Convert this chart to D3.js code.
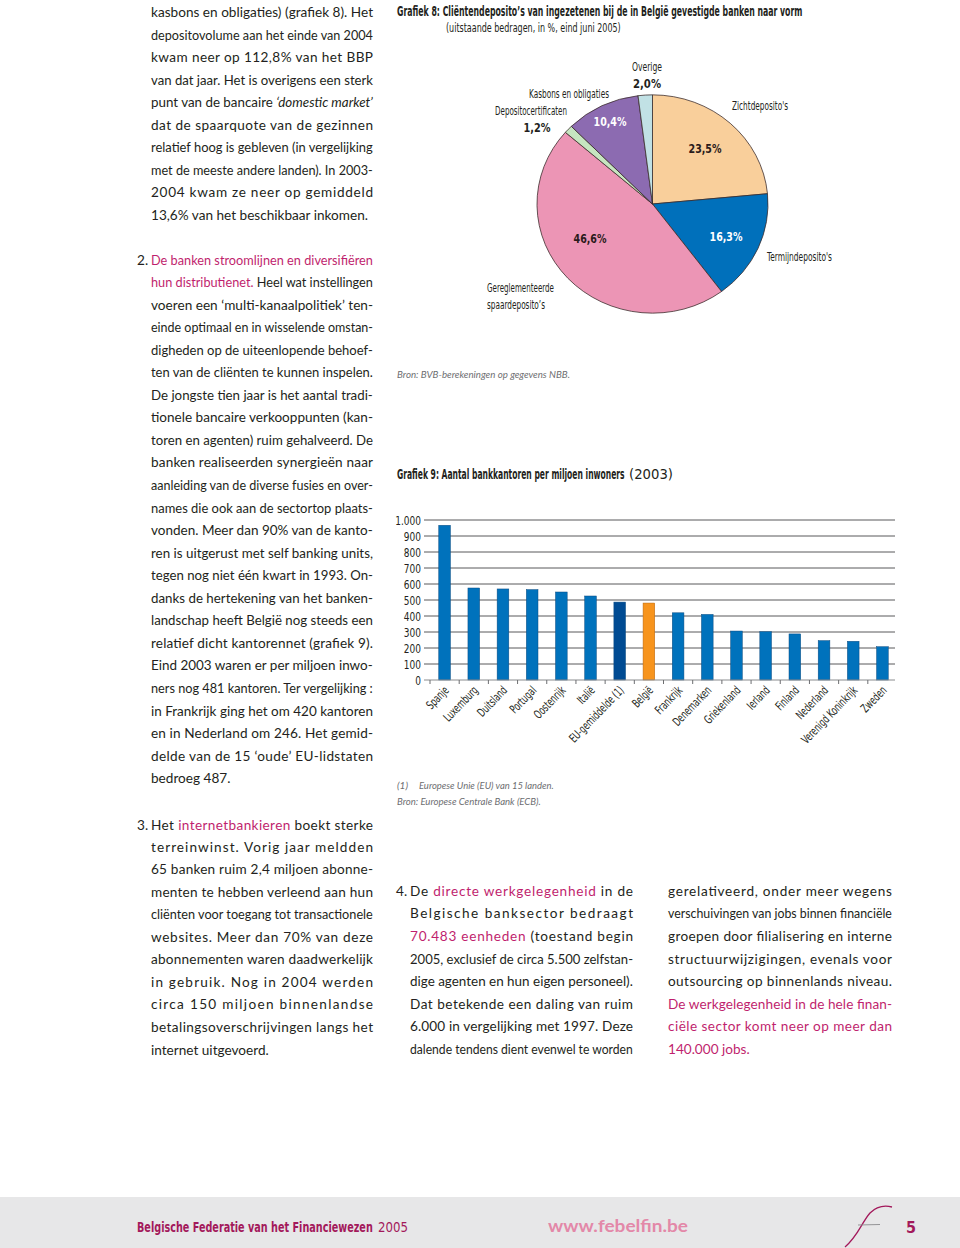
<!DOCTYPE html>
<html><head><meta charset="utf-8">
<script src="https://cdn.jsdelivr.net/npm/d3@7"></script>
<style>
html,body{margin:0;padding:0;background:#fff;}
svg{display:block;}
.body{font-family:Lato,"Open Sans",sans-serif;font-size:13.6px;fill:#231f20;}
.cond{font-family:"Liberation Sans Narrow","DejaVu Sans Condensed","Roboto Condensed",sans-serif;}
</style></head>
<body>
<svg id="page" width="960" height="1248"></svg>
<script>
// ---------- DATA ----------
const pieLabels = ["Zichtdeposito's","Termijndeposito's","Gereglementeerde spaardeposito's","Depositocertificaten","Kasbons en obligaties","Overige"];
const pieValues = [23.5, 16.3, 46.6, 1.2, 10.4, 2.0];
const pieValueLabels = ["23,5%","16,3%","46,6%","1,2%","10,4%","2,0%"];
const pieColors = ["#f9cf9b","#0070bb","#ec95b5","#c6e5c0","#8c6bb1","#c1e1e5"];

const barCategories = ["Spanje","Luxemburg","Duitsland","Portugal","Oostenrijk","Italië","EU-gemiddelde (1)","België","Frankrijk","Denemarken","Griekenland","Ierland","Finland","Nederland","Verenigd Koninkrijk","Zweden"];
const barValues = [967, 575, 569, 565, 550, 525, 487, 481, 420, 410, 306, 302, 288, 246, 242, 208];
const yTicks = [0,100,200,300,400,500,600,700,800,900,1000];

// ---------- SETUP ----------
const svg = d3.select("#page");
const PINK = "#bf1f6e";
const TXT = "#231f20";
// fit a text horizontally to width w by scaling about its anchor point
function fitText(t, x, y, w){
  const L = t.node().getComputedTextLength();
  const s = w / L;
  t.attr("x",0).attr("y",0).attr("transform",`translate(${x},${y}) scale(${s},1)`);
  return t;
}

// ---------- BODY TEXT ----------
const C1 = 151, W1 = 222, C2 = 410, W2 = 223, C3 = 668, W3 = 224;
const bodyLines = [
 [C1,17,W1,[["kasbons en obligaties) (grafiek 8). Het"]]],
 [C1,39.5,W1,[["depositovolume aan het einde van 2004"]]],
 [C1,62,W1,[["kwam neer op 112,8% van het BBP"]]],
 [C1,84.5,W1,[["van dat jaar. Het is overigens een sterk"]]],
 [C1,107,W1,[["punt van de bancaire "],["‘domestic market’","i"]]],
 [C1,129.5,W1,[["dat de spaarquote van de gezinnen"]]],
 [C1,152,W1,[["relatief hoog is gebleven (in vergelijking"]]],
 [C1,174.5,W1,[["met de meeste andere landen). In 2003-"]]],
 [C1,197,W1,[["2004 kwam ze neer op gemiddeld"]]],
 [C1,219.5,0,[["13,6% van het beschikbaar inkomen."]]],

 [C1,264.5,W1,[["De banken stroomlijnen en diversifiëren","p"]]],
 [C1,287,W1,[["hun distributienet.","p"],[" Heel wat instellingen"]]],
 [C1,309.5,W1,[["voeren een ‘multi-kanaalpolitiek’ ten-"]]],
 [C1,332,W1,[["einde optimaal en in wisselende omstan-"]]],
 [C1,354.5,W1,[["digheden op de uiteenlopende behoef-"]]],
 [C1,377,W1,[["ten van de cliënten te kunnen inspelen."]]],
 [C1,399.5,W1,[["De jongste tien jaar is het aantal tradi-"]]],
 [C1,422,W1,[["tionele bancaire verkooppunten (kan-"]]],
 [C1,444.5,W1,[["toren en agenten) ruim gehalveerd. De"]]],
 [C1,467,W1,[["banken realiseerden synergieën naar"]]],
 [C1,490,W1,[["aanleiding van de diverse fusies en over-"]]],
 [C1,512.5,W1,[["names die ook aan de sectortop plaats-"]]],
 [C1,535,W1,[["vonden. Meer dan 90% van de kanto-"]]],
 [C1,557.5,W1,[["ren is uitgerust met self banking units,"]]],
 [C1,580,W1,[["tegen nog niet één kwart in 1993. On-"]]],
 [C1,602.5,W1,[["danks de hertekening van het banken-"]]],
 [C1,625,W1,[["landschap heeft België nog steeds een"]]],
 [C1,647.5,W1,[["relatief dicht kantorennet (grafiek 9)."]]],
 [C1,670,W1,[["Eind 2003 waren er per miljoen inwo-"]]],
 [C1,693,W1,[["ners nog 481 kantoren. Ter vergelijking :"]]],
 [C1,715.5,W1,[["in Frankrijk ging het om 420 kantoren"]]],
 [C1,738,W1,[["en in Nederland om 246. Het gemid-"]]],
 [C1,760.5,W1,[["delde van de 15 ‘oude’ EU-lidstaten"]]],
 [C1,783,0,[["bedroeg 487."]]],

 [C1,829.5,W1,[["Het "],["internetbankieren","p"],[" boekt sterke"]]],
 [C1,851.5,W1,[["terreinwinst. Vorig jaar meldden"]]],
 [C1,874,W1,[["65 banken ruim 2,4 miljoen abonne-"]]],
 [C1,896.5,W1,[["menten te hebben verleend aan hun"]]],
 [C1,919,W1,[["cliënten voor toegang tot transactionele"]]],
 [C1,941.5,W1,[["websites. Meer dan 70% van deze"]]],
 [C1,964,W1,[["abonnementen waren daadwerkelijk"]]],
 [C1,986.5,W1,[["in gebruik. Nog in 2004 werden"]]],
 [C1,1009,W1,[["circa 150 miljoen binnenlandse"]]],
 [C1,1032,W1,[["betalingsoverschrijvingen langs het"]]],
 [C1,1054.5,0,[["internet uitgevoerd."]]],

 [C2,895.5,W2,[["De "],["directe werkgelegenheid","p"],[" in de"]]],
 [C2,918,W2,[["Belgische banksector bedraagt"]]],
 [C2,941,W2,[["70.483 eenheden","p"],[" (toestand begin"]]],
 [C2,963.5,W2,[["2005, exclusief de circa 5.500 zelfstan-"]]],
 [C2,986,W2,[["dige agenten en hun eigen personeel)."]]],
 [C2,1008.5,W2,[["Dat betekende een daling van ruim"]]],
 [C2,1031,W2,[["6.000 in vergelijking met 1997. Deze"]]],
 [C2,1053.5,W2,[["dalende tendens dient evenwel te worden"]]],

 [C3,895.5,W3,[["gerelativeerd, onder meer wegens"]]],
 [C3,918,W3,[["verschuivingen van jobs binnen financiële"]]],
 [C3,941,W3,[["groepen door filialisering en interne"]]],
 [C3,963.5,W3,[["structuurwijzigingen, evenals voor"]]],
 [C3,986,W3,[["outsourcing op binnenlands niveau."]]],
 [C3,1008.5,W3,[["De werkgelegenheid in de hele finan-","p"]]],
 [C3,1031,W3,[["ciële sector komt neer op meer dan","p"]]],
 [C3,1053.5,0,[["140.000 jobs.","p"]]]
];
const bodyG = svg.append("g").attr("class","body");
bodyLines.forEach(([x,y,w,segs]) => {
  const t = bodyG.append("text").attr("x",x).attr("y",y);
  segs.forEach(([s,st]) => {
    const ts = t.append("tspan").text(s);
    if (st==="p") ts.attr("fill",PINK);
    if (st==="i") ts.attr("font-style","italic");
  });
  if (w) {
    const L = t.node().getComputedTextLength();
    if (L > w) fitText(t, x, y, w);
    else t.attr("textLength",w).attr("lengthAdjust","spacing");
  }
});
[[137,264.5,"2."],[137,829.5,"3."],[396,895.5,"4."]].forEach(([x,y,s]) =>
  bodyG.append("text").attr("x",x).attr("y",y).text(s));

// ---------- CHART 8: PIE ----------
const g8 = svg.append("g").attr("class","cond");
fitText(g8.append("text").attr("font-size",14).attr("font-weight","bold").attr("fill",TXT)
  .text("Grafiek 8: Cliëntendeposito’s van ingezetenen bij de in België gevestigde banken naar vorm"), 397, 16, 406);
fitText(g8.append("text").attr("font-size",13).attr("fill",TXT)
  .text("(uitstaande bedragen, in %, eind juni 2005)"), 446, 32, 175);

const R = 115.5;
const pie = d3.pie().sort(null).value(d => d)(pieValues);
const arc = d3.arc().innerRadius(0).outerRadius(R);
const pieG = g8.append("g").attr("transform","translate(652.5,204) scale(1,0.945)");
pieG.selectAll("path").data(pie).join("path")
  .attr("d",arc).attr("fill",(d,i)=>pieColors[i])
  .attr("stroke","#3a2a2a").attr("stroke-width",0.8);

const lab = (x,y,s,w,opt={}) => {
  const t = g8.append("text").attr("font-size",opt.fs||12)
    .attr("text-anchor",opt.a||"middle").attr("fill",opt.c||TXT).text(s);
  if (opt.b) t.attr("font-weight","bold");
  return fitText(t, x, y, w);
};
lab(647,71,pieLabels[5],30);
lab(647,88,pieValueLabels[5],28,{b:1,fs:13});
lab(569,98,pieLabels[4],80);
lab(531,115,pieLabels[3],72);
lab(537,132,pieValueLabels[3],27,{b:1,fs:13});
lab(610,126,pieValueLabels[4],33,{b:1,fs:13,c:"#fff"});
lab(760,110,pieLabels[0],56);
lab(705,153,pieValueLabels[0],33,{b:1,fs:13,c:"#2a1a1a"});
lab(590,243,pieValueLabels[2],33,{b:1,fs:13,c:"#2a1a1a"});
lab(726,241,pieValueLabels[1],33,{b:1,fs:13,c:"#fff"});
lab(767,261,pieLabels[1],65,{a:"start"});
lab(487,292,"Gereglementeerde",67,{a:"start"});
lab(487,309,"spaardeposito’s",58,{a:"start"});
fitText(g8.append("text").attr("font-family","Lato,sans-serif")
  .attr("font-size",10).attr("font-style","italic").attr("fill","#6d6e71")
  .text("Bron: BVB-berekeningen op gegevens NBB."), 397, 378, 173);

// ---------- CHART 9: BARS ----------
const g9 = svg.append("g").attr("class","cond");
fitText(g9.append("text").attr("font-size",14).attr("fill",TXT).attr("font-weight","bold")
  .text("Grafiek 9: Aantal bankkantoren per miljoen inwoners"), 397, 479, 228);
fitText(g9.append("text").attr("font-size",14).attr("fill",TXT).text("(2003)"), 629, 479, 44);

const y = d3.scaleLinear().domain([0,1000]).range([680,520]);
const x = d3.scaleBand().domain(barCategories).range([430,897]).paddingInner(0.6).paddingOuter(0.3);
const step = x.step();
const fmt = d3.formatLocale({thousands:".",decimal:",",grouping:[3],currency:["",""]}).format(",");

g9.selectAll("line.grid").data(yTicks.filter(d=>d>0)).join("line")
  .attr("x1",424).attr("x2",895).attr("y1",d=>y(d)).attr("y2",d=>y(d))
  .attr("stroke","#58595b").attr("stroke-width",1);
g9.selectAll("text.yl").data(yTicks).join("text")
  .attr("transform",d=>`translate(421,${y(d)}) scale(0.8,1)`)
  .attr("dy","0.36em").attr("text-anchor","end")
  .attr("font-size",12.5).attr("fill",TXT).text(d=>fmt(d));
g9.selectAll("rect.bar").data(barCategories).join("rect")
  .attr("x",d=>x(d)).attr("width",x.bandwidth())
  .attr("y",(d,i)=>y(barValues[i])).attr("height",(d,i)=>y(0)-y(barValues[i]))
  .attr("fill",d=> d==="België" ? "#f7941d" : d.startsWith("EU") ? "#004b93" : "#0072bc")
  .attr("stroke",d=> d==="België" ? "#b8650d" : "#0a4a80").attr("stroke-width",0.5);
g9.append("line").attr("x1",424).attr("x2",895).attr("y1",y(0)).attr("y2",y(0))
  .attr("stroke","#8a8c8e").attr("stroke-width",1);
g9.selectAll("line.xt").data(barCategories).join("line")
  .attr("x1",d=>x(d)+x.bandwidth()/2-step/2).attr("x2",d=>x(d)+x.bandwidth()/2-step/2)
  .attr("y1",y(0)).attr("y2",y(0)+4).attr("stroke","#6d6e71").attr("stroke-width",1);
g9.selectAll("text.xl").data(barCategories).join("text")
  .attr("transform",d=>`translate(${x(d)+x.bandwidth()/2+5},${y(0)+11}) rotate(-46) scale(0.72,1)`)
  .attr("text-anchor","end").attr("font-size",12).attr("fill",TXT).text(d=>d);

const fn = g9.append("g").attr("font-family","Lato,sans-serif").attr("font-size",10)
  .attr("font-style","italic").attr("fill","#6d6e71");
fn.append("text").attr("x",397).attr("y",789).text("(1)");
fitText(fn.append("text").text("Europese Unie (EU) van 15 landen."), 419, 789, 135);
fitText(fn.append("text").text("Bron: Europese Centrale Bank (ECB)."), 397, 805, 144);

// ---------- FOOTER ----------
const fg = svg.append("g");
fg.append("rect").attr("x",0).attr("y",1197).attr("width",960).attr("height",51).attr("fill","#e7e7e8");
fitText(fg.append("text").attr("class","cond").attr("font-size",14.5)
  .attr("font-weight","bold").attr("fill","#a3195b")
  .text("Belgische Federatie van het Financiewezen"), 137, 1232, 236);
fitText(fg.append("text").attr("class","cond").attr("font-size",14.5)
  .attr("fill","#a3195b").text("2005"), 378, 1232, 30);
fitText(fg.append("text").attr("font-family","Lato,'Open Sans',sans-serif")
  .attr("font-size",17).attr("font-weight","bold").attr("fill","#e388a8")
  .text("www.febelfin.be"), 548, 1232, 140);
fg.append("path").attr("d","M845,1247 C858,1236 862,1222 870,1213 C876,1207 884,1205 892,1207")
  .attr("fill","none").attr("stroke","#a3195b").attr("stroke-width",1.3);
fg.append("line").attr("x1",858).attr("x2",880).attr("y1",1225).attr("y2",1224.5)
  .attr("stroke","#8a8a8c").attr("stroke-width",0.9);
fg.append("text").attr("x",906).attr("y",1233).attr("class","cond").attr("font-size",16)
  .attr("font-weight","bold").attr("fill","#a3195b").text("5");
</script>
</body></html>
